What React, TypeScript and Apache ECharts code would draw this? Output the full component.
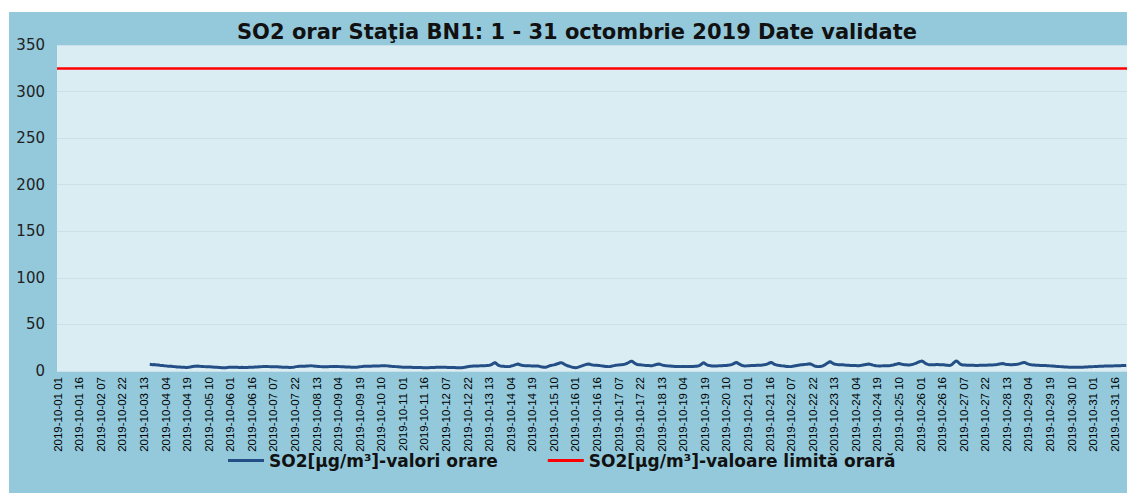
import React, { useEffect, useRef } from "react";
import * as echarts from "echarts";

const TITLE = "SO2 orar Staţia BN1: 1 - 31 octombrie 2019 Date validate";
const SERIES_HOURLY = "SO2[µg/m³]-valori orare";
const SERIES_LIMIT = "SO2[µg/m³]-valoare limită orară";
const LIMIT_VALUE = 325;
const Y_MIN = 0;
const Y_MAX = 350;
const Y_STEP = 50;

const MONTH_PREFIX = "2019-10-";
const DAYS = ["01","02","03","04","05","06","07","08","09","10","11","12","13","14","15","16","17","18","19","20","21","22","23","24","25","26","27","28","29","30","31"];
const HOURS = ["01","02","03","04","05","06","07","08","09","10","11","12","13","14","15","16","17","18","19","20","21","22","23","24"];

const N = null;
// hourly SO2 values (µg/m³), one row per day of October 2019
const SO2_BY_DAY: (number | null)[][] = [
  [N,N,N,N,N,N,N,N,N,N,N,N,N,N,N,N,N,N,N,N,N,N,N,N],
  [N,N,N,N,N,N,N,N,N,N,N,N,N,N,N,N,N,N,N,N,N,N,N,N],
  [N,N,N,N,N,N,N,N,N,N,N,N,N,N,N,N,7.2,7.0,6.8,6.9,6.6,6.4,6.5,6.2],
  [6.0,5.8,5.6,5.5,5.3,5.2,5.1,5.0,4.9,4.7,4.6,4.4,4.3,4.2,4.1,4.0,3.9,3.8,3.8,3.9,4.2,4.6,4.9,5.1],
  [5.2,5.3,5.2,5.0,4.9,4.8,4.7,4.6,4.6,4.5,4.5,4.4,4.3,4.1,4.0,3.9,3.8,3.7,3.6,3.5,3.5,3.6,3.8,3.9],
  [4.0,4.1,4.0,4.0,3.9,3.9,3.8,3.8,3.9,3.8,3.7,3.8,3.8,3.9,4.0,3.9,4.1,4.2,4.3,4.4,4.5,4.6,4.7,4.8],
  [4.8,4.9,4.8,4.7,4.6,4.6,4.5,4.5,4.6,4.5,4.3,4.2,4.1,4.0,4.0,3.9,3.9,3.8,3.8,3.9,4.1,4.4,4.7,4.9],
  [5.0,5.1,5.1,5.2,5.2,5.3,5.4,5.5,5.6,5.5,5.3,5.1,5.0,4.9,4.8,4.7,4.6,4.5,4.5,4.6,4.6,4.7,4.7,4.8],
  [4.8,4.8,4.9,4.8,4.7,4.6,4.5,4.5,4.4,4.3,4.3,4.2,4.1,4.1,4.0,4.0,4.1,4.3,4.5,4.7,4.9,5.0,5.1,5.1],
  [5.1,5.2,5.2,5.3,5.3,5.4,5.4,5.5,5.5,5.6,5.6,5.6,5.6,5.5,5.4,5.2,5.0,4.9,4.8,4.7,4.6,4.5,4.4,4.2],
  [4.1,4.0,4.0,3.9,3.9,3.9,3.9,3.8,3.8,3.8,3.7,3.7,3.7,3.7,3.6,3.6,3.6,3.6,3.6,3.7,3.7,3.8,3.8,3.9],
  [3.9,3.9,3.9,4.0,3.9,3.9,3.9,3.8,3.8,3.8,3.7,3.7,3.7,3.6,3.6,3.6,3.6,3.6,3.8,4.0,4.3,4.6,4.9,5.1],
  [5.2,5.3,5.4,5.4,5.5,5.5,5.6,5.6,5.7,5.7,5.8,6.0,6.2,6.5,7.2,8.2,9.0,8.0,6.6,5.8,5.4,5.2,5.0,4.8],
  [4.7,4.7,4.9,5.2,5.6,6.0,6.6,7.1,7.5,7.0,6.4,6.0,5.8,5.7,5.7,5.6,5.6,5.5,5.5,5.5,5.4,5.4,5.4,5.0],
  [4.6,4.3,4.0,3.9,4.3,5.0,5.6,6.0,6.3,6.6,7.0,7.5,8.0,8.6,9.0,8.5,7.6,6.6,5.9,5.4,4.9,4.4,4.0,3.8],
  [3.6,3.8,4.2,4.7,5.2,5.8,6.3,6.8,7.2,7.5,7.2,6.8,6.5,6.3,6.2,6.1,6.0,5.8,5.5,5.3,5.1,4.9,4.8,4.7],
  [4.9,5.2,5.5,5.8,6.1,6.3,6.5,6.6,6.8,7.0,7.3,7.7,8.3,9.1,10.0,10.7,9.8,8.6,7.6,7.0,6.7,6.6,6.5,6.3],
  [6.1,6.0,5.9,5.8,5.7,5.7,6.0,6.4,6.9,7.3,7.5,7.1,6.6,6.2,5.9,5.7,5.5,5.4,5.3,5.1,5.0,4.9,4.8,4.8],
  [4.8,4.7,4.7,4.7,4.7,4.7,4.8,4.8,4.9,4.9,4.9,5.0,5.0,5.3,5.8,6.6,7.8,9.0,8.1,7.0,6.2,5.8,5.6,5.4],
  [5.4,5.4,5.5,5.5,5.6,5.6,5.7,5.8,5.9,6.0,6.2,6.4,6.7,7.1,7.8,8.7,9.3,8.4,7.3,6.5,5.9,5.6,5.4,5.5],
  [5.6,5.7,5.8,5.9,5.9,6.0,6.1,6.1,6.2,6.3,6.4,6.6,6.9,7.3,7.9,8.7,9.3,8.5,7.5,6.8,6.4,6.1,6.0,5.7],
  [5.5,5.3,5.1,4.9,4.8,4.7,4.8,5.0,5.3,5.6,5.9,6.2,6.5,6.6,6.7,6.9,7.1,7.3,7.5,7.7,7.2,6.4,5.6,5.0],
  [4.8,4.7,4.7,5.0,5.6,6.3,7.2,8.2,9.2,10.0,9.2,8.2,7.5,7.1,6.9,6.8,6.8,6.7,6.6,6.5,6.3,6.2,6.1,6.0],
  [5.9,5.9,5.8,5.8,5.7,5.7,5.9,6.1,6.4,6.7,7.0,7.3,7.5,7.1,6.7,6.3,6.0,5.7,5.5,5.4,5.4,5.5,5.6,5.7],
  [5.7,5.7,5.7,5.9,6.2,6.5,6.9,7.3,7.7,8.0,7.6,7.2,6.9,6.7,6.6,6.5,6.5,6.7,7.0,7.4,7.9,8.5,9.2,9.9],
  [10.3,10.7,9.8,8.6,7.6,7.1,6.8,6.7,6.7,6.8,6.8,6.9,6.9,6.8,6.8,6.8,6.6,6.4,6.2,6.1,6.0,6.3,7.2,8.8],
  [10.2,11.0,9.6,8.0,7.0,6.5,6.4,6.4,6.3,6.3,6.2,6.2,6.1,6.1,6.0,6.0,6.0,6.1,6.1,6.2,6.2,6.3,6.3,6.4],
  [6.4,6.5,6.5,6.6,6.8,7.0,7.3,7.6,7.9,8.0,7.7,7.3,7.0,6.9,6.8,6.8,6.8,6.9,7.0,7.2,7.5,7.9,8.4,8.9],
  [9.3,8.7,8.0,7.4,7.0,6.7,6.5,6.4,6.3,6.2,6.1,6.0,6.0,5.9,5.9,5.8,5.7,5.6,5.5,5.4,5.3,5.2,5.0,4.9],
  [4.8,4.7,4.6,4.5,4.4,4.3,4.2,4.1,4.1,4.0,4.0,3.9,3.9,3.9,3.9,4.0,4.0,4.1,4.2,4.3,4.4,4.5,4.5,4.6],
  [4.7,4.8,4.8,4.9,5.0,5.0,5.1,5.2,5.3,5.3,5.4,5.4,5.5,5.5,5.5,5.6,5.6,5.6,5.7,5.7,5.8,5.9,5.9,6.0],
];

const CATEGORIES: string[] = [];
DAYS.forEach((d) => HOURS.forEach((h) => CATEGORIES.push(`${MONTH_PREFIX}${d} ${h}`)));
const SO2_HOURLY: (number | null)[] = ([] as (number | null)[]).concat(...SO2_BY_DAY);

export default function App() {
  const ref = useRef<HTMLDivElement>(null);
  useEffect(() => {
    if (!ref.current) return;
    const chart = echarts.init(ref.current, null, { renderer: "svg" });
    chart.setOption({
      animation: false,
      backgroundColor: "#ffffff",
      graphic: [
        {
          type: "rect",
          z: -10,
          silent: true,
          shape: { x: 9, y: 12, width: 1130, height: 490 },
          style: { fill: "#93c9db" },
        },
      ],
      title: {
        text: TITLE,
        left: 572,
        top: 16,
        textAlign: "center",
        textStyle: { fontFamily: "DejaVu Sans", fontWeight: "bold", fontSize: 21, color: "#111" },
      },
      legend: {
        left: 223,
        top: 447,
        itemWidth: 36,
        itemHeight: 3,
        itemGap: 50,
        icon: "rect",
        textStyle: { fontFamily: "DejaVu Sans", fontWeight: "bold", fontSize: 17, color: "#111" },
        data: [SERIES_HOURLY, SERIES_LIMIT],
      },
      grid: {
        left: 57,
        right: 0,
        top: 45,
        bottom: 122,
        show: true,
        backgroundColor: "#daedf2",
        borderWidth: 0,
      },
      xAxis: {
        type: "category",
        data: CATEGORIES,
        boundaryGap: true,
        axisLine: { show: false },
        axisTick: { show: false },
        splitLine: { show: false },
        axisLabel: {
          interval: 14,
          rotate: 90,
          margin: 6,
          fontFamily: "Liberation Sans",
          fontSize: 11.5,
          color: "#000",
        },
      },
      yAxis: {
        type: "value",
        min: Y_MIN,
        max: Y_MAX,
        interval: Y_STEP,
        axisLine: { show: false },
        axisTick: { show: false },
        splitLine: { lineStyle: { color: "#cbe1e9", width: 1 } },
        axisLabel: { margin: 12, fontFamily: "DejaVu Sans", fontSize: 15, color: "#222" },
      },
      series: [
        {
          name: SERIES_HOURLY,
          type: "line",
          data: SO2_HOURLY,
          showSymbol: false,
          symbol: "none",
          color: "#234f86",
          lineStyle: { color: "#234f86", width: 3 },
          z: 3,
        },
        {
          name: SERIES_LIMIT,
          type: "line",
          data: [],
          symbol: "none",
          color: "#ff0000",
          lineStyle: { color: "#ff0000", width: 3 },
          markLine: {
            silent: true,
            symbol: "none",
            label: { show: false },
            lineStyle: { color: "#ff0000", width: 2.5, type: "solid" },
            data: [{ yAxis: LIMIT_VALUE }],
          },
          z: 2,
        },
      ],
    });
    return () => chart.dispose();
  }, []);
  return (
    <div
      ref={ref}
      style={{ position: "fixed", left: 0, top: 0, width: 1127, height: 493 }}
    />
  );
}
